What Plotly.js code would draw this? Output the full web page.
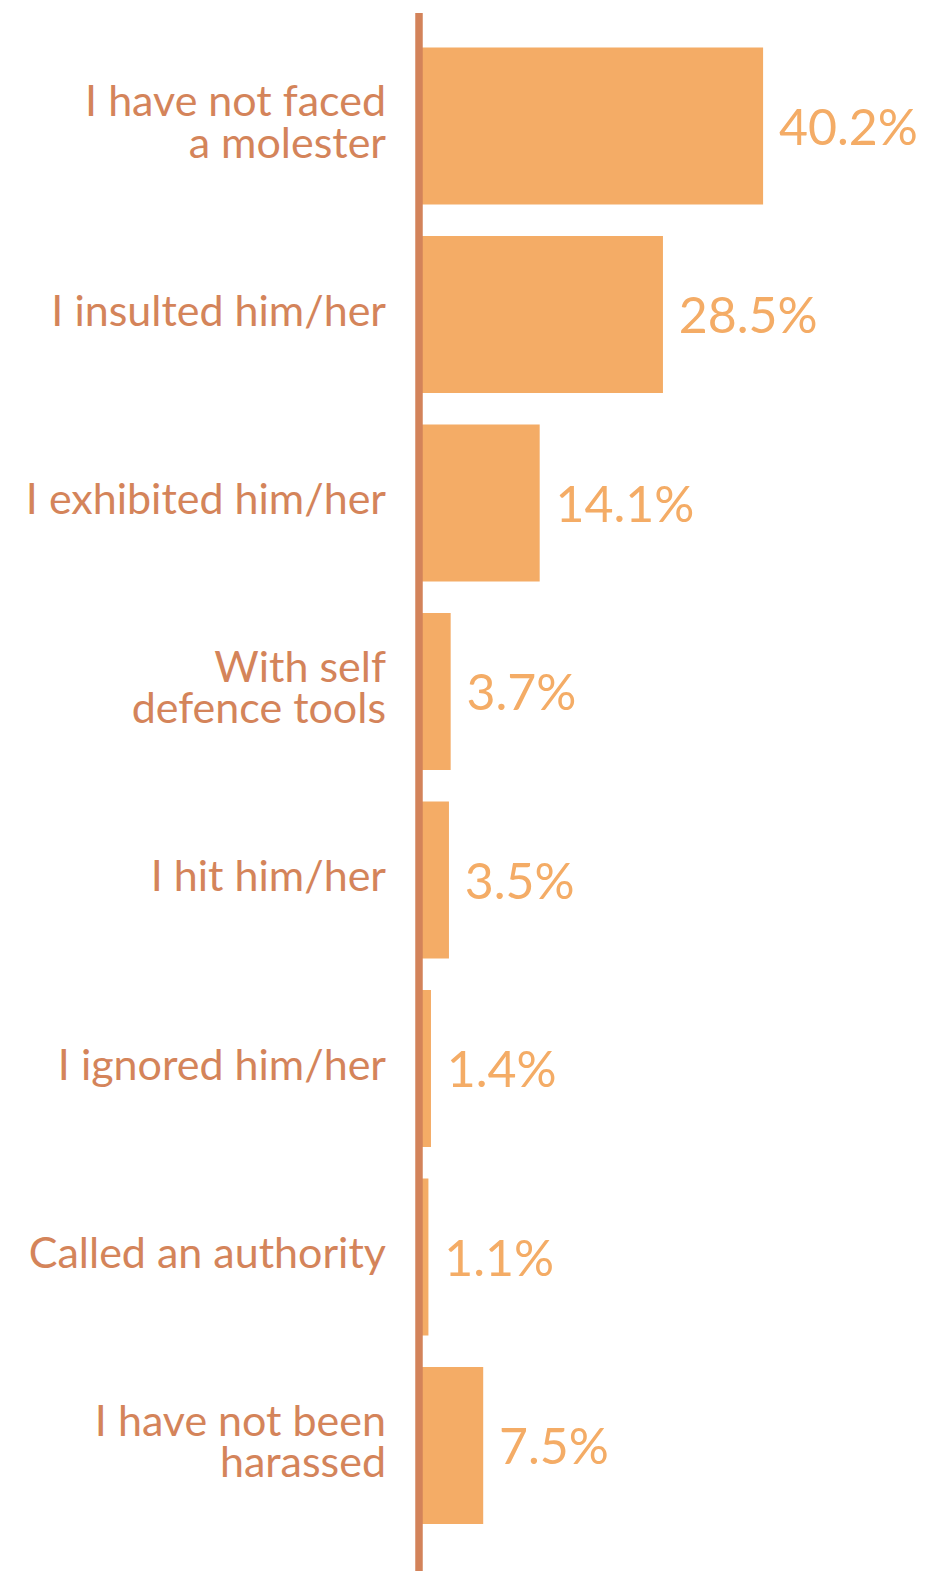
<!DOCTYPE html>
<html>
<head>
<meta charset="utf-8">
<script src="https://cdn.plot.ly/plotly-3.0.1.min.js"></script>
<style>html,body{margin:0;padding:0;background:#fff;}</style>
</head>
<body>
<div id="chart" style="width:933px;height:1571px;"></div>
<script>
// Categories (top to bottom)
const categories = [
  "I have not faced<br>a molester",
  "I insulted him/her",
  "I exhibited him/her",
  "With self<br>defence tools",
  "I hit him/her",
  "I ignored him/her",
  "Called an authority",
  "I have not been<br>harassed"
];
// Share of respondents (%)
const values = [40.2, 28.5, 14.1, 3.7, 3.5, 1.4, 1.1, 7.5];
// Value labels
const valueLabels = ["40.2%", "28.5%", "14.1%", "3.7%", "3.5%", "1.4%", "1.1%", "7.5%"];

const labelColor = "#D4845A";
const barColor = "#F4AC66";
const LABEL_SIZE = 43;

const tickText = categories.map(c =>
  c.split("<br>").map(p => '<span style="font-size:' + LABEL_SIZE + 'px">' + p + '</span>').join("<br>")
);

const trace = {
  type: "bar",
  orientation: "h",
  y: categories,
  x: values,
  text: valueLabels.map(v => "\u00a0" + v),
  textposition: "outside",
  cliponaxis: false,
  textfont: {family: "Lato, sans-serif", size: 50, color: barColor},
  marker: {color: barColor, line: {width: 0}},
  hoverinfo: "none"
};

const layout = {
  width: 933,
  height: 1571,
  margin: {l: 419, r: 0, t: 13, b: 0, pad: 0},
  paper_bgcolor: "#ffffff",
  plot_bgcolor: "#ffffff",
  showlegend: false,
  bargap: 0.167,
  font: {family: "Lato, sans-serif"},
  xaxis: {
    range: [0, 60.05],
    visible: false,
    showgrid: false,
    zeroline: false,
    fixedrange: true
  },
  yaxis: {
    type: "category",
    range: [7.666, -0.599],
    tickmode: "array",
    tickvals: categories,
    ticktext: tickText,
    showgrid: false,
    zeroline: false,
    showline: false,
    ticks: "",
    ticklabelstandoff: 32,
    tickfont: {family: "Lato, sans-serif", size: 32, color: labelColor},
    fixedrange: true
  },
  shapes: [{
    type: "line",
    xref: "paper", yref: "paper",
    x0: 0, x1: 0, y0: 0, y1: 1,
    layer: "above",
    line: {color: "#D3835A", width: 7.5}
  }]
};

Plotly.newPlot("chart", [trace], layout, {displayModeBar: false, staticPlot: true});
</script>
</body>
</html>
